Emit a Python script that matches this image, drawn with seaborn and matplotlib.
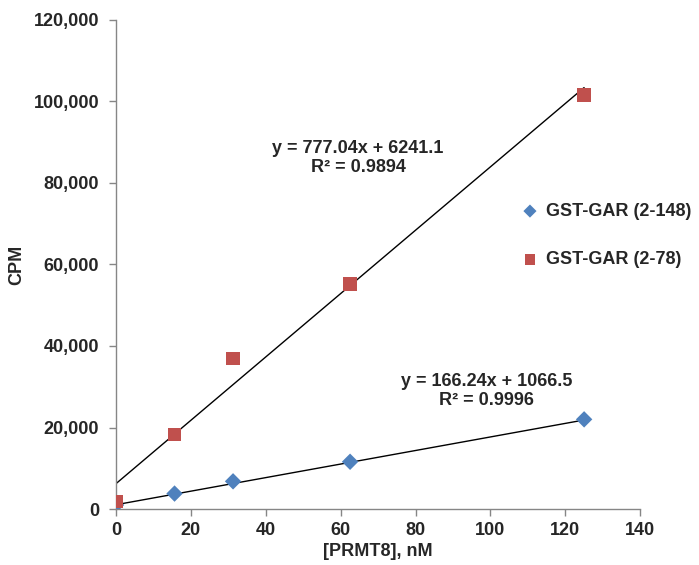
import numpy as np
import pandas as pd
import matplotlib.pyplot as plt
import seaborn as sns

# PRMT8 concentration (nM) and counts per minute for both substrates
prmt8_nm = [0, 15.625, 31.25, 62.5, 125]
cpm_2_148 = [1000, 3800, 6800, 11600, 22000]
cpm_2_78 = [1900, 18300, 36900, 55200, 101600]
series_names = ["GST-GAR (2-148)", "GST-GAR (2-78)"]

# linear trendlines as printed on the chart
fit_slopes = [166.24, 777.04]
fit_intercepts = [1066.5, 6241.1]
fit_r2 = [0.9996, 0.9894]

colors = ["#4F81BD", "#C0504D"]
markers = ["D", "s"]


def main():
    df = pd.DataFrame({
        "nM": prmt8_nm * 2,
        "CPM": cpm_2_148 + cpm_2_78,
        "series": [series_names[0]] * len(prmt8_nm) + [series_names[1]] * len(prmt8_nm),
    })

    sns.set_style("white")
    plt.rcParams["font.family"] = ["Liberation Sans", "DejaVu Sans"]
    plt.rcParams["font.weight"] = "bold"

    fs = 13
    fig = plt.figure(figsize=(6.99, 5.65), dpi=100)
    ax = fig.add_axes([0.166, 0.099, 0.750, 0.866])

    # trendlines first so markers sit on top
    xs = np.array([0, max(prmt8_nm)])
    for m, b in zip(fit_slopes, fit_intercepts):
        ax.plot(xs, m * xs + b, color="black", lw=1.0, zorder=2)

    for name, col, mk, size in zip(series_names, colors, markers, [70, 95]):
        sub = df[df["series"] == name]
        sns.scatterplot(data=sub, x="nM", y="CPM", ax=ax, color=col, marker=mk,
                        s=size, edgecolor="none", label=name, zorder=3)

    ax.set_xlim(0, 140)
    ax.set_ylim(0, 120000)
    ax.set_xticks(range(0, 141, 20))
    ax.set_yticks(range(0, 120001, 20000))
    ax.yaxis.set_major_formatter(plt.FuncFormatter(lambda v, p: f"{int(v):,}"))

    for s in ["top", "right"]:
        ax.spines[s].set_visible(False)
    for s in ["left", "bottom"]:
        ax.spines[s].set_color("#868686")
        ax.spines[s].set_linewidth(1.0)
    ax.tick_params(axis="both", direction="out", length=5, width=1, color="#868686",
                   labelsize=fs, pad=4, left=True, bottom=True)
    ax.tick_params(axis="y", pad=7)
    for lab in ax.get_xticklabels() + ax.get_yticklabels():
        lab.set_fontweight("bold")

    ax.set_xlabel("[PRMT8], nM", fontsize=fs, fontweight="bold", labelpad=3)
    ax.set_ylabel("CPM", fontsize=fs, fontweight="bold", labelpad=6)

    # trendline equations
    ax.text(64.6, 86200,
            f"y = {fit_slopes[1]}x + {fit_intercepts[1]}\nR² = {fit_r2[1]}",
            ha="center", va="center", fontsize=fs, fontweight="bold", linespacing=1.15)
    ax.text(99, 29000,
            f"y = {fit_slopes[0]}x + {fit_intercepts[0]}\nR² = {fit_r2[0]}",
            ha="center", va="center", fontsize=fs, fontweight="bold", linespacing=1.15)

    leg = ax.legend(loc="center left", bbox_to_anchor=(0.722, 0.583), bbox_transform=fig.transFigure,
                    frameon=False, fontsize=fs, handletextpad=0.4, labelspacing=1.75,
                    handlelength=1.0, markerscale=0.8)
    for t in leg.get_texts():
        t.set_fontweight("bold")

    fig.savefig("out.png", dpi=100)
    plt.close(fig)


if __name__ == "__main__":
    main()
